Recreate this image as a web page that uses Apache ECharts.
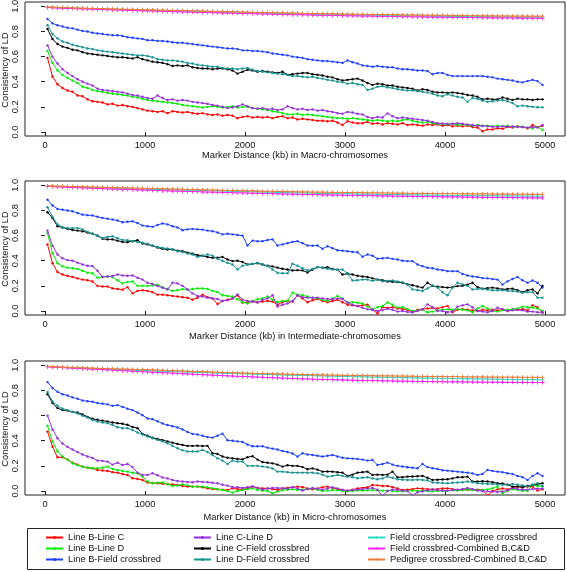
<!DOCTYPE html>
<html>
<head>
<meta charset="utf-8">
<script src="https://cdn.jsdelivr.net/npm/echarts@6/dist/echarts.min.js"></script>
<style>html,body{margin:0;padding:0;background:#fff}#chart{width:567px;height:572px}</style>
</head>
<body>
<div id="chart"></div>
<script>
// x positions (kb)
const distances = [25,75,125,175,225,275,325,375,425,475,525,575,625,675,725,775,825,875,925,975,
1025,1075,1125,1175,1225,1275,1325,1375,1425,1475,1525,1575,1625,1675,1725,1775,1825,1875,1925,1975,
2025,2075,2125,2175,2225,2275,2325,2375,2425,2475,2525,2575,2625,2675,2725,2775,2825,2875,2925,2975,
3025,3075,3125,3175,3225,3275,3325,3375,3425,3475,3525,3575,3625,3675,3725,3775,3825,3875,3925,3975,
4025,4075,4125,4175,4225,4275,4325,4375,4425,4475,4525,4575,4625,4675,4725,4775,4825,4875,4925,4975];

const seriesNames = ['Line B-Line C','Line B-Line D','Line B-Field crossbred','Line C-Line D','Line C-Field crossbred','Line D-Field crossbred','Field crossbred-Pedigree crossbred','Field crossbred-Combined B,C&D','Pedigree crossbred-Combined B,C&D'];
const panelTitles = ['Marker Distance (kb) in Macro-chromosomes','Marker Distance (kb) in Intermediate-chromosomes','Marker Distance (kb) in Micro-chromosomes'];
const yAxisTitle = 'Consistency of LD';
const xTicks = [0,1000,2000,3000,4000,5000];
const yTicks = [0,0.2,0.4,0.6,0.8,1.0];

// ---------- Macro-chromosomes ----------
const macroBC = [.59,.44,.38,.35,.33,.32,.29,.285,.26,.245,
.24,.235,.22,.225,.21,.215,.205,.20,.19,.18,
.17,.165,.16,.165,.15,.165,.16,.155,.16,.15,
.145,.15,.14,.135,.14,.13,.135,.13,.11,.12,
.125,.115,.12,.115,.12,.11,.12,.125,.11,.115,
.10,.105,.10,.095,.09,.09,.085,.09,.075,.055,
.085,.075,.07,.07,.08,.065,.07,.06,.07,.065,
.06,.07,.055,.06,.055,.05,.06,.055,.06,.05,
.055,.045,.05,.045,.05,.04,.035,.005,.02,.02,
.03,.025,.04,.035,.045,.04,.03,.055,.04,.05];
const macroBD = [.645,.55,.49,.455,.43,.41,.39,.36,.35,.335,
.325,.32,.31,.305,.30,.295,.29,.28,.275,.265,
.255,.25,.245,.24,.235,.23,.225,.215,.21,.205,
.20,.195,.20,.205,.20,.195,.20,.205,.195,.20,
.20,.19,.185,.18,.175,.165,.16,.15,.14,.14,
.145,.135,.14,.135,.13,.125,.12,.115,.11,.11,
.105,.11,.105,.10,.095,.09,.095,.09,.085,.09,
.085,.095,.10,.09,.08,.075,.08,.07,.065,.063,
.06,.065,.055,.06,.055,.05,.055,.05,.05,.045,
.05,.045,.05,.04,.045,.04,.035,.03,.04,.016];
const macroBF = [.90,.865,.85,.84,.83,.825,.815,.805,.80,.79,
.785,.78,.775,.77,.77,.765,.755,.75,.745,.74,
.73,.73,.725,.725,.72,.715,.71,.71,.705,.70,
.695,.69,.685,.68,.675,.67,.665,.665,.66,.65,
.65,.645,.645,.64,.635,.625,.62,.615,.61,.60,
.595,.59,.58,.575,.57,.565,.565,.56,.555,.55,
.57,.555,.545,.53,.525,.52,.525,.52,.515,.515,
.505,.50,.50,.495,.49,.49,.485,.46,.47,.47,
.455,.445,.445,.445,.445,.445,.445,.445,.44,.435,
.425,.42,.415,.41,.40,.395,.405,.415,.405,.375];
const macroCD = [.69,.60,.545,.50,.47,.445,.42,.40,.385,.37,
.345,.335,.33,.325,.32,.315,.305,.295,.29,.28,
.27,.265,.29,.27,.255,.26,.25,.255,.25,.24,
.235,.23,.225,.215,.21,.20,.19,.195,.205,.22,
.205,.19,.185,.19,.18,.185,.175,.18,.205,.19,
.18,.185,.175,.18,.17,.175,.165,.16,.15,.145,
.16,.155,.145,.14,.12,.11,.12,.115,.148,.125,
.11,.115,.11,.105,.10,.095,.09,.08,.07,.068,
.063,.065,.07,.065,.06,.055,.05,.048,.045,.042,
.04,.045,.042,.045,.04,.04,.035,.04,.035,.056];
const macroCF = [.82,.74,.70,.68,.67,.655,.65,.635,.625,.62,
.615,.61,.605,.60,.595,.595,.59,.585,.595,.58,
.57,.56,.555,.55,.54,.525,.53,.525,.53,.515,
.51,.505,.505,.50,.505,.505,.50,.49,.465,.48,
.495,.49,.48,.485,.48,.475,.47,.48,.455,.46,
.465,.47,.47,.46,.455,.45,.44,.435,.42,.41,
.415,.42,.425,.41,.39,.375,.385,.38,.37,.37,
.36,.355,.35,.345,.33,.34,.335,.32,.315,.315,
.31,.315,.31,.305,.295,.29,.28,.26,.265,.26,
.26,.275,.265,.255,.265,.26,.26,.255,.26,.26];
const macroDF = [.85,.78,.745,.72,.71,.695,.685,.675,.665,.66,
.65,.645,.64,.635,.63,.625,.62,.615,.61,.61,
.605,.595,.58,.575,.57,.57,.565,.56,.55,.545,
.535,.53,.525,.52,.52,.51,.505,.505,.50,.505,
.51,.495,.485,.48,.475,.47,.465,.46,.455,.445,
.445,.44,.435,.44,.43,.425,.415,.41,.40,.395,
.385,.39,.38,.375,.335,.345,.36,.365,.355,.35,
.34,.335,.33,.33,.325,.32,.315,.305,.29,.285,
.30,.29,.28,.275,.24,.27,.265,.25,.24,.245,
.25,.255,.245,.23,.205,.21,.205,.20,.197,.196];
const macroFP = [.994,.993,.991,.990,.988,.987,.986,.984,.983,.982,
.981,.980,.979,.978,.977,.975,.974,.973,.972,.971,
.970,.969,.968,.967,.966,.965,.964,.963,.962,.961,
.960,.959,.958,.957,.956,.955,.954,.953,.952,.951,
.950,.949,.948,.947,.946,.945,.944,.943,.942,.942,
.941,.940,.939,.938,.937,.937,.936,.935,.934,.934,
.933,.932,.931,.931,.930,.929,.929,.928,.927,.927,
.926,.926,.925,.924,.924,.923,.923,.922,.922,.921,
.921,.920,.920,.919,.919,.918,.918,.918,.917,.917,
.917,.916,.916,.916,.915,.915,.915,.915,.914,.914];
const macroFComb = [.991,.989,.987,.986,.984,.983,.981,.980,.979,.977,
.976,.975,.973,.972,.971,.970,.968,.967,.966,.965,
.964,.963,.962,.961,.960,.958,.957,.956,.955,.954,
.953,.952,.951,.950,.949,.948,.947,.946,.945,.944,
.943,.942,.941,.940,.939,.938,.937,.936,.935,.934,
.934,.933,.932,.931,.930,.929,.929,.928,.927,.926,
.925,.925,.924,.923,.923,.922,.921,.921,.920,.919,
.919,.918,.918,.917,.916,.916,.915,.915,.914,.914,
.913,.913,.912,.912,.911,.911,.910,.910,.909,.909,
.909,.908,.908,.908,.907,.907,.906,.906,.906,.905];
const macroPComb = [.995,.994,.992,.991,.990,.988,.987,.986,.985,.984,
.983,.982,.981,.980,.979,.978,.977,.976,.975,.974,
.973,.972,.971,.970,.969,.968,.968,.967,.966,.965,
.964,.963,.962,.961,.960,.959,.958,.957,.956,.955,
.954,.953,.952,.951,.951,.950,.949,.948,.947,.947,
.946,.945,.944,.944,.943,.942,.941,.941,.940,.939,
.939,.938,.937,.937,.936,.936,.935,.935,.934,.934,
.933,.933,.932,.932,.931,.931,.930,.930,.929,.929,
.928,.928,.927,.927,.927,.926,.926,.925,.925,.925,
.924,.924,.924,.923,.923,.923,.922,.922,.922,.922];

// ---------- Intermediate-chromosomes ----------
const interBC = [.53,.38,.31,.29,.28,.27,.26,.25,.245,.235,
.20,.195,.195,.18,.175,.17,.19,.14,.16,.165,
.16,.15,.13,.13,.125,.12,.115,.11,.105,.09,
.105,.13,.11,.10,.055,.08,.09,.10,.125,.065,
.07,.075,.07,.075,.08,.075,.05,.07,.08,.075,
.125,.10,.07,.085,.095,.08,.07,.08,.09,.07,
.05,.045,.04,.045,.05,.01,-.02,.03,.025,.03,
.02,.015,.01,-.01,.01,.015,.02,.025,.02,.03,
.04,-.01,.01,.015,.01,.005,.0,.01,.005,.01,
.005,.01,.0,.015,.01,.015,.005,.045,.03,-.015];
const interBD = [.62,.46,.38,.355,.345,.34,.335,.32,.305,.30,
.265,.27,.275,.27,.245,.22,.23,.235,.20,.20,
.198,.205,.21,.19,.175,.16,.165,.175,.17,.175,
.18,.18,.175,.16,.15,.125,.12,.115,.093,.07,
.06,.08,.093,.10,.115,.09,.07,.08,.08,.146,
.13,.125,.115,.105,.10,.09,.08,.10,.12,.10,
.067,.07,.065,.06,.035,.013,.03,.04,.067,.05,
.027,.03,.015,.0,.005,.01,-.01,-.005,.005,.01,
.013,.01,.015,.01,.005,-.01,.02,.04,.02,.0,
-.005,.005,.01,.013,.02,.035,.03,.027,.02,.0];
const interBF = [.886,.84,.813,.806,.80,.794,.78,.767,.763,.76,
.75,.741,.735,.728,.72,.707,.71,.714,.70,.68,
.675,.67,.685,.697,.69,.675,.665,.643,.65,.654,
.65,.648,.64,.635,.625,.61,.615,.61,.605,.60,
.521,.56,.555,.556,.565,.57,.521,.53,.54,.55,
.556,.54,.521,.52,.521,.495,.516,.50,.484,.48,
.476,.47,.468,.432,.45,.44,.416,.42,.423,.415,
.41,.40,.397,.397,.37,.357,.344,.34,.33,.325,
.317,.317,.317,.295,.283,.275,.27,.262,.26,.254,
.25,.21,.236,.255,.27,.245,.225,.243,.225,.186];
const interCD = [.64,.52,.45,.42,.405,.40,.385,.37,.36,.357,
.32,.27,.275,.278,.29,.283,.28,.283,.265,.25,
.225,.215,.198,.185,.172,.225,.22,.20,.172,.14,
.12,.115,.106,.10,.095,.08,.085,.10,.132,.09,
.08,.075,.067,.09,.10,.125,.035,.05,.06,.08,
.125,.11,.106,.105,.106,.10,.095,.093,.10,.095,
.067,.05,.04,.025,.013,.01,.0,.005,.018,.01,
-.005,.0,-.008,-.01,.0,.013,.053,.03,.0,.0,
-.01,-.005,.035,.045,.053,.03,.0,-.005,-.01,.0,
.027,.015,.0,.005,.008,.005,-.005,-.005,-.01,-.01];
const interCF = [.786,.74,.675,.665,.655,.645,.64,.635,.625,.615,
.60,.575,.57,.57,.56,.55,.548,.555,.564,.537,
.53,.52,.505,.495,.49,.49,.48,.476,.465,.457,
.445,.44,.43,.423,.425,.43,.41,.397,.40,.39,
.37,.375,.38,.37,.36,.355,.345,.336,.33,.323,
.325,.323,.307,.33,.349,.345,.349,.335,.328,.29,
.297,.29,.28,.275,.27,.26,.25,.245,.235,.232,
.23,.225,.212,.205,.195,.186,.225,.20,.193,.19,
.186,.19,.198,.20,.21,.225,.19,.178,.182,.186,
.18,.172,.175,.178,.165,.15,.165,.172,.14,.20];
const interDF = [.826,.75,.69,.665,.66,.66,.66,.65,.63,.615,
.60,.58,.59,.595,.58,.565,.564,.556,.55,.543,
.535,.52,.51,.502,.497,.49,.476,.47,.457,.45,
.43,.44,.45,.44,.415,.40,.383,.37,.33,.36,
.37,.375,.383,.37,.357,.33,.304,.30,.30,.376,
.36,.34,.323,.335,.349,.345,.336,.33,.328,.33,
.30,.243,.245,.25,.25,.24,.25,.236,.24,.243,
.235,.228,.21,.172,.165,.159,.18,.204,.186,.15,
.125,.186,.225,.212,.20,.172,.175,.178,.17,.165,
.165,.165,.16,.159,.155,.146,.15,.15,.106,.106];
const interFP = [.994,.993,.992,.990,.989,.988,.987,.986,.984,.983,
.982,.981,.980,.978,.977,.976,.975,.974,.973,.971,
.970,.969,.968,.967,.966,.965,.964,.963,.962,.961,
.960,.959,.958,.957,.956,.955,.954,.953,.952,.951,
.950,.949,.948,.947,.946,.945,.944,.943,.942,.941,
.940,.940,.939,.938,.937,.936,.936,.935,.934,.933,
.933,.932,.931,.931,.930,.929,.929,.928,.927,.927,
.926,.926,.925,.924,.924,.923,.923,.922,.922,.921,
.921,.920,.920,.919,.919,.918,.918,.918,.917,.917,
.917,.916,.916,.916,.915,.915,.915,.915,.914,.914];
const interFComb = [.992,.990,.988,.987,.985,.983,.982,.980,.979,.977,
.976,.974,.973,.971,.970,.968,.967,.966,.964,.963,
.962,.960,.959,.958,.957,.955,.954,.953,.952,.951,
.950,.948,.947,.946,.945,.944,.943,.942,.941,.940,
.939,.938,.937,.936,.935,.934,.933,.932,.931,.930,
.929,.928,.927,.927,.926,.925,.924,.923,.923,.922,
.921,.920,.920,.919,.918,.918,.917,.916,.916,.915,
.914,.914,.913,.913,.912,.911,.911,.910,.910,.909,
.909,.908,.908,.907,.907,.906,.906,.905,.905,.904,
.904,.903,.903,.903,.902,.902,.901,.901,.900,.900];
const interPComb = [.996,.995,.994,.993,.992,.991,.990,.989,.988,.987,
.986,.985,.984,.983,.982,.981,.980,.979,.978,.977,
.976,.975,.974,.973,.972,.971,.970,.969,.968,.967,
.966,.965,.964,.963,.962,.961,.960,.959,.958,.957,
.957,.956,.955,.954,.953,.953,.952,.951,.950,.950,
.949,.948,.948,.947,.946,.946,.945,.945,.944,.944,
.943,.943,.942,.942,.941,.941,.940,.940,.939,.939,
.938,.938,.937,.937,.937,.936,.936,.935,.935,.935,
.934,.934,.934,.933,.933,.933,.932,.932,.932,.931,
.931,.931,.931,.930,.930,.930,.930,.929,.929,.929];

// ---------- Micro-chromosomes ----------
const microBC = [.473,.353,.268,.268,.25,.226,.21,.194,.185,.181,
.167,.163,.159,.15,.146,.135,.128,.101,.095,.088,
.067,.063,.061,.058,.056,.052,.048,.04,.035,.035,
.035,.03,.021,.015,.013,.01,.008,.021,.015,.013,
.02,.035,.025,.021,.021,.015,.008,.021,.025,.03,
.035,.03,.02,.013,.02,.03,.035,.025,.015,.005,
.003,.01,.021,.025,.03,.048,.045,.04,.04,.03,
.02,.008,.01,.015,.021,.018,.015,.013,.015,.02,
.021,.015,.008,.01,.008,.01,.01,.008,-.035,.0,
.013,.02,.013,.025,.035,.03,.035,.035,.003,.013];
const microBD = [.519,.394,.314,.274,.25,.221,.205,.194,.185,.181,
.181,.185,.194,.175,.167,.16,.154,.145,.141,.114,
.075,.061,.065,.067,.055,.04,.045,.053,.045,.035,
.035,.035,.03,.021,.015,.008,.0,-.013,.0,.008,
.015,.021,.01,.003,.0,-.019,-.005,.008,.01,.013,
.008,.01,.015,.021,.01,.0,.003,.008,.005,.0,
-.003,.0,.003,.003,.005,.008,.005,.003,.003,.0,
-.003,-.003,.0,.003,.0,.003,.0,-.003,.0,.0,
.003,.005,.003,.008,.01,.008,.005,.008,.013,.021,
.035,-.019,.0,.013,.01,.003,.0,.048,.04,.035];
const microBF = [.867,.82,.79,.77,.76,.745,.735,.72,.715,.71,
.70,.695,.69,.678,.684,.67,.655,.644,.625,.604,
.577,.572,.555,.537,.525,.516,.506,.49,.47,.455,
.45,.44,.43,.425,.44,.457,.404,.40,.395,.39,
.37,.356,.356,.356,.345,.337,.33,.319,.31,.298,
.274,.30,.29,.287,.28,.274,.28,.287,.275,.265,
.26,.258,.255,.25,.242,.247,.207,.215,.226,.21,
.20,.195,.189,.185,.181,.215,.19,.181,.175,.165,
.162,.158,.154,.15,.146,.14,.128,.135,.168,.16,
.154,.15,.141,.135,.12,.11,.088,.12,.141,.12];
const microCD = [.60,.49,.42,.378,.35,.33,.31,.29,.275,.263,
.242,.24,.234,.21,.225,.207,.215,.19,.146,.128,
.128,.141,.125,.107,.10,.088,.08,.075,.072,.07,
.075,.072,.07,.065,.061,.05,.043,.03,.03,.024,
.03,.037,.025,.011,.02,.024,.024,.022,.019,.03,
.02,.003,.015,.024,.018,.011,.02,.03,.02,.01,
.003,.008,.011,.015,.02,.024,.01,-.04,.0,.011,
.01,.003,.0,-.035,-.01,-.003,.005,.011,.008,.003,
.003,.008,.011,.015,.024,.015,.003,.0,-.003,-.005,
-.008,-.005,.005,.024,.015,.01,.011,.015,.018,.019];
const microCF = [.77,.70,.66,.645,.64,.63,.625,.61,.59,.575,
.567,.56,.553,.545,.54,.535,.527,.51,.50,.455,
.44,.425,.414,.405,.394,.385,.375,.367,.359,.359,
.36,.358,.359,.30,.295,.274,.265,.26,.255,.252,
.268,.277,.25,.23,.225,.22,.21,.194,.205,.20,
.20,.19,.173,.18,.17,.154,.155,.154,.15,.146,
.12,.13,.146,.15,.154,.128,.13,.128,.13,.154,
.109,.11,.114,.115,.118,.12,.105,.088,.09,.092,
.093,.10,.109,.11,.114,.075,.075,.078,.075,.07,
.061,.06,.05,.035,.035,.03,.04,.048,.055,.061];
const microDF = [.788,.713,.68,.655,.644,.63,.617,.60,.585,.565,
.553,.545,.54,.525,.508,.50,.50,.485,.466,.45,
.434,.42,.407,.395,.38,.36,.34,.325,.314,.314,
.314,.327,.31,.287,.26,.242,.215,.242,.234,.234,
.20,.20,.20,.195,.189,.18,.154,.154,.15,.146,
.146,.146,.145,.146,.141,.13,.114,.12,.128,.12,
.114,.11,.101,.105,.109,.10,.093,.10,.114,.105,
.093,.09,.088,.088,.09,.088,.085,.067,.065,.063,
.061,.065,.067,.07,.075,.07,.061,.06,.056,.055,
.052,.048,.05,.056,.05,.045,.035,.05,.061,.04];
const microFP = [.990,.988,.986,.984,.982,.981,.979,.977,.976,.974,
.973,.971,.970,.968,.967,.965,.964,.962,.961,.960,
.958,.957,.955,.954,.952,.951,.950,.948,.947,.946,
.944,.943,.942,.940,.939,.938,.937,.935,.934,.933,
.932,.931,.930,.928,.927,.926,.925,.924,.923,.922,
.921,.920,.919,.918,.917,.916,.915,.914,.913,.912,
.911,.910,.910,.909,.908,.907,.906,.905,.905,.904,
.903,.902,.902,.901,.900,.899,.899,.898,.897,.897,
.896,.895,.895,.894,.893,.893,.892,.892,.891,.890,
.890,.889,.889,.888,.888,.887,.887,.886,.886,.885];
const microFComb = [.989,.986,.984,.982,.980,.978,.976,.974,.972,.970,
.968,.966,.964,.962,.960,.958,.956,.954,.952,.950,
.948,.946,.944,.942,.940,.938,.936,.934,.932,.930,
.928,.926,.924,.922,.921,.919,.917,.915,.913,.912,
.910,.908,.907,.905,.903,.902,.900,.899,.897,.896,
.894,.893,.892,.890,.889,.888,.887,.886,.885,.884,
.883,.882,.881,.880,.879,.879,.878,.877,.876,.876,
.875,.874,.874,.873,.872,.872,.871,.871,.870,.870,
.869,.869,.868,.868,.868,.867,.867,.867,.866,.866,
.866,.866,.865,.865,.865,.865,.864,.864,.864,.864];
const microPComb = [.992,.990,.988,.987,.985,.984,.982,.981,.980,.978,
.977,.976,.974,.973,.972,.971,.970,.969,.968,.967,
.966,.964,.963,.961,.960,.958,.957,.955,.954,.952,
.951,.950,.948,.947,.946,.944,.943,.942,.941,.939,
.938,.937,.936,.935,.934,.933,.932,.931,.930,.929,
.928,.927,.926,.925,.925,.924,.923,.923,.922,.921,
.921,.920,.919,.919,.918,.918,.917,.917,.916,.916,
.915,.915,.914,.914,.913,.913,.912,.912,.911,.911,
.910,.910,.910,.909,.909,.908,.908,.908,.907,.907,
.907,.906,.906,.906,.906,.905,.905,.905,.905,.904];

const panels = [
  [macroBC, macroBD, macroBF, macroCD, macroCF, macroDF, macroFP, macroFComb, macroPComb],
  [interBC, interBD, interBF, interCD, interCF, interDF, interFP, interFComb, interPComb],
  [microBC, microBD, microBF, microCD, microCF, microDF, microFP, microFComb, microPComb]
];

const colors = ['#ff0000','#00ee00','#2040ff','#9530dc','#000000','#179393','#2fd8c2','#ff22ff','#ee7a3a'];
const plusSymbol = 'path://M2,0H3V2H5V3H3V5H2V3H0V2H2Z';

const FONT = 'Liberation Sans, Arial, sans-serif';
const gridTops = [2, 181, 361];
const gridHeight = 134;
const nameGaps = [14.5, 16.5, 17.5];

const grids = [], xAxes = [], yAxes = [], series = [], graphics = [];
panels.forEach((arrs, p) => {
  grids.push({left: 25, width: 540, top: gridTops[p], height: gridHeight, show: true, borderColor: '#222', borderWidth: 1,
    backgroundColor: 'transparent', containLabel: false, outerBoundsMode: 'none'});
  xAxes.push({
    type: 'value', gridIndex: p, min: -200, max: 5200,
    name: panelTitles[p], nameLocation: 'middle', nameGap: nameGaps[p],
    nameTextStyle: {fontFamily: FONT, fontSize: 9.3, color: '#111'},
    axisLine: {show: false},
    axisTick: {show: true, length: 4, inside: false, customValues: xTicks, lineStyle: {color: '#222'}},
    axisLabel: {customValues: xTicks, margin: 5, fontFamily: FONT, fontSize: 9.3, color: '#111',
      formatter: v => String(v)},
    splitLine: {show: false}
  });
  yAxes.push({
    type: 'value', gridIndex: p, min: -0.032, max: 1.035,
    axisLine: {show: false},
    axisTick: {show: true, length: 4, customValues: yTicks, lineStyle: {color: '#222'}},
    axisLabel: {customValues: yTicks, rotate: 90, margin: 5, fontFamily: FONT, fontSize: 9.3, color: '#111',
      formatter: v => v.toFixed(1)},
    splitLine: {show: false}
  });
  graphics.push({
    type: 'text', x: 5.5, y: gridTops[p] + gridHeight / 2 + 1, rotation: Math.PI / 2, silent: true,
    style: {text: yAxisTitle, fontFamily: FONT, fontSize: 9.3, fill: '#111', align: 'center', verticalAlign: 'middle'}
  });
  arrs.forEach((vals, k) => {
    series.push({
      type: 'line', name: seriesNames[k], xAxisIndex: p, yAxisIndex: p,
      data: distances.map((d, i) => [d, vals[i]]),
      symbol: k >= 6 ? plusSymbol : 'circle', symbolSize: k >= 6 ? 4 : 2.4,
      showSymbol: true,
      lineStyle: {width: 1, color: colors[k]},
      itemStyle: {color: colors[k], borderWidth: 0},
      emphasis: {disabled: true},
      animation: false, z: 2 + k
    });
  });
});

// one legend component per entry, laid out in 3 columns x 3 rows
const legendLefts = [45, 193, 367];
const legendTops = [533, 544, 555];
const legends = seriesNames.map((nm, i) => ({
  orient: 'horizontal', left: legendLefts[Math.floor(i / 3)], top: legendTops[i % 3],
  itemWidth: 17, itemHeight: 4, padding: 0,
  data: [nm],
  textStyle: {fontFamily: FONT, fontSize: 9.3, color: '#111'},
  selectedMode: false
}));

graphics.push({type: 'rect', shape: {x: 27.5, y: 528.5, width: 537, height: 41}, style: {fill: 'none', stroke: '#222', lineWidth: 1}, silent: true});

const chart = echarts.init(document.getElementById('chart'), null, {renderer: 'canvas'});
chart.setOption({
  animation: false,
  color: colors,
  grid: grids, xAxis: xAxes, yAxis: yAxes, series: series,
  legend: legends,
  graphic: graphics
});
</script>
</body>
</html>
